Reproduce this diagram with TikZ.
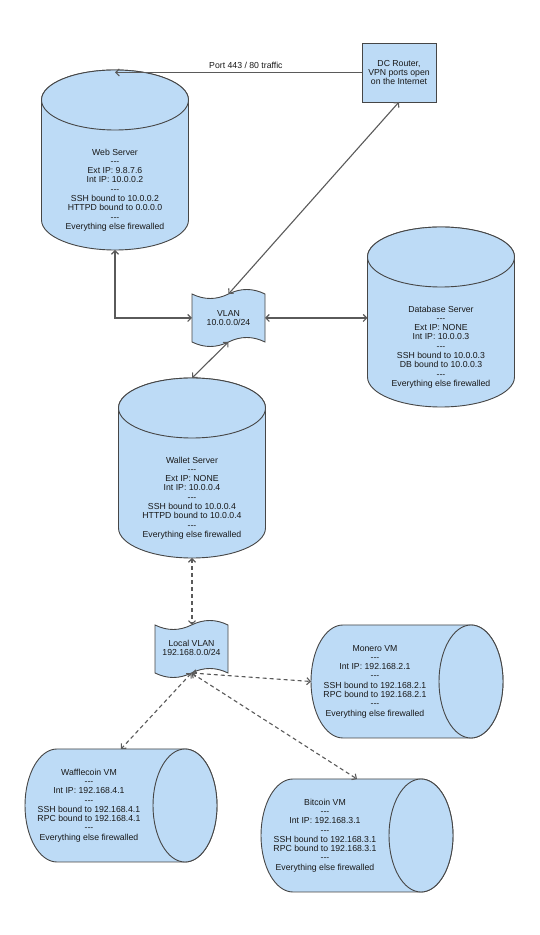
\documentclass[tikz,border=0pt]{standalone}
\usepackage{fontspec}
\setmainfont{Liberation Sans}
\usetikzlibrary{calc,arrows.meta}
\definecolor{cylfill}{RGB}{189,219,246}
\definecolor{edge}{RGB}{70,70,70}
\definecolor{conn}{RGB}{90,90,90}
\definecolor{ink}{RGB}{25,25,25}
\newcommand{\sepline}{-{}-{}-}
\tikzset{
  holder/.style={shape=rectangle,draw=none,inner sep=0pt,outer sep=0pt},
  shapeline/.style={draw=edge,fill=cylfill,line width=0.9pt},
  txt/.style={align=center,text=ink,font=\fontsize{8.7}{9.3}\selectfont,inner sep=0pt},
  conline/.style={draw=conn,line width=1.1pt,{Straight Barb[length=3.5pt,width=7pt]}-{Straight Barb[length=3.5pt,width=7pt]}},
  conone/.style={draw=conn,line width=1.1pt,-{Straight Barb[length=3.5pt,width=7pt]}},
  dashline/.style={conline,dash pattern=on 4pt off 3pt},
}
% vertical cylinder: name, cx, cy, w, h  (ellipse ry = 30)
\newcommand{\vcyl}[5]{%
  \node[holder,minimum width=#4pt,minimum height=#5pt] (#1) at (#2,#3) {};
  \filldraw[shapeline] ({#2-#4/2},{#3+#5/2-30}) -- ({#2-#4/2},{#3-#5/2+30})
     arc[start angle=180,end angle=360,x radius=#4pt/2,y radius=30pt]
     -- ({#2+#4/2},{#3+#5/2-30})
     arc[start angle=0,end angle=180,x radius=#4pt/2,y radius=30pt] -- cycle;
  \draw[shapeline] (#2,{#3+#5/2-30}) ellipse[x radius=#4pt/2,y radius=30pt];
}
% horizontal cylinder: name, cx, cy, w, h (ellipse rx = 32)
\newcommand{\hcyl}[5]{%
  \node[holder,minimum width=#4pt,minimum height=#5pt] (#1) at (#2,#3) {};
  \filldraw[shapeline] ({#2+#4/2-32},{#3+#5/2}) -- ({#2-#4/2+32},{#3+#5/2})
     arc[start angle=90,end angle=270,x radius=32pt,y radius=#5pt/2]
     -- ({#2+#4/2-32},{#3-#5/2})
     arc[start angle=270,end angle=450,x radius=32pt,y radius=#5pt/2] -- cycle;
  \draw[shapeline] ({#2+#4/2-32},#3) ellipse[x radius=32pt,y radius=#5pt/2];
}
% tape: name, cx, cy, w, h
\newcommand{\tapenode}[5]{%
  \node[holder,minimum width=#4pt,minimum height=#5pt] (#1) at (#2,#3) {};
  \filldraw[shapeline]
    ({#2-#4/2},{#3+#5/2-5})
    .. controls ({#2-#4/3},{#3+#5/2-11}) and ({#2-#4/6},{#3+#5/2-11}) .. ({#2},{#3+#5/2-5})
    .. controls ({#2+#4/6},{#3+#5/2+1}) and ({#2+#4/3},{#3+#5/2+1}) .. ({#2+#4/2},{#3+#5/2-5})
    -- ({#2+#4/2},{#3-#5/2+5})
    .. controls ({#2+#4/3},{#3-#5/2+11}) and ({#2+#4/6},{#3-#5/2+11}) .. ({#2},{#3-#5/2+5})
    .. controls ({#2-#4/6},{#3-#5/2-1}) and ({#2-#4/3},{#3-#5/2-1}) .. ({#2-#4/2},{#3-#5/2+5})
    -- cycle;
  \coordinate (#1-top) at (#2,{#3+#5/2-5});
  \coordinate (#1-bot) at (#2,{#3-#5/2+5});
}
\begin{document}
\begin{tikzpicture}[x=1pt,y=1pt]
\useasboundingbox (0,0) rectangle (540,935);
\fill[white] (0,0) rectangle (540,935);

% shapes
\vcyl{web}{115}{775}{147}{180}
\node[txt] (webtxt) at (115,745) {Web Server\\\sepline\\Ext IP: 9.8.7.6\\Int IP: 10.0.0.2\\\sepline\\SSH bound to 10.0.0.2\\HTTPD bound to 0.0.0.0\\\sepline\\Everything else firewalled};

\vcyl{db}{441}{618}{147}{180}
\node[txt] (dbtxt) at (441,588) {Database Server\\\sepline\\Ext IP: NONE\\Int IP: 10.0.0.3\\\sepline\\SSH bound to 10.0.0.3\\DB bound to 10.0.0.3\\\sepline\\Everything else firewalled};

\vcyl{wallet}{192}{467}{147}{180}
\node[txt] (wallettxt) at (192,437) {Wallet Server\\\sepline\\Ext IP: NONE\\Int IP: 10.0.0.4\\\sepline\\SSH bound to 10.0.0.4\\HTTPD bound to 10.0.0.4\\\sepline\\Everything else firewalled};

\node[holder,draw=edge,fill=cylfill,line width=0.9pt,minimum width=74pt,minimum height=59pt] (router) at (399,862.5) {};
\node[txt] (routertxt) at (399,862.5) {DC Router,\\VPN ports open\\on the Internet};

\tapenode{vlan}{228.5}{617}{73}{58}
\node[txt] (vlantxt) at (228.5,617) {VLAN\\10.0.0.0/24};

\tapenode{local}{191.5}{286}{73}{58}
\node[txt] (localtxt) at (191.5,287) {Local VLAN\\192.168.0.0/24};

\hcyl{monero}{407}{253.5}{192}{113}
\node[txt] (monerotxt) at (375,253.5) {Monero VM\\\sepline\\Int IP: 192.168.2.1\\\sepline\\SSH bound to 192.168.2.1\\RPC bound to 192.168.2.1\\\sepline\\Everything else firewalled};

\hcyl{waffle}{121}{129.5}{192}{113}
\node[txt] (waffletxt) at (89,129.5) {Wafflecoin VM\\\sepline\\Int IP: 192.168.4.1\\\sepline\\SSH bound to 192.168.4.1\\RPC bound to 192.168.4.1\\\sepline\\Everything else firewalled};

\hcyl{bitcoin}{357}{99.5}{192}{113}
\node[txt] (bitcointxt) at (325,99.5) {Bitcoin VM\\\sepline\\Int IP: 192.168.3.1\\\sepline\\SSH bound to 192.168.3.1\\RPC bound to 192.168.3.1\\\sepline\\Everything else firewalled};

% connectors
\draw[conone] (router.west) -- (router.west -| web.north)
  node[txt,pos=0.47,above=3pt] (portlbl) {Port 443 / 80 traffic};
\draw[conline] (vlan-top) -- (router.south);
\draw[conline] (web.south) |- (vlan.west);
\draw[conline] (vlan.east) -- (vlan.east -| db.west);
\draw[conline] (vlan-bot) -- (wallet.north);
\draw[dashline] (wallet.south) -- (wallet.south |- local-top);
\draw[dashline] (local-bot) -- (monero.west);
\draw[dashline] (local-bot) -- (waffle.north);
\draw[dashline] (local-bot) -- (bitcoin.north);
\end{tikzpicture}
\end{document}
